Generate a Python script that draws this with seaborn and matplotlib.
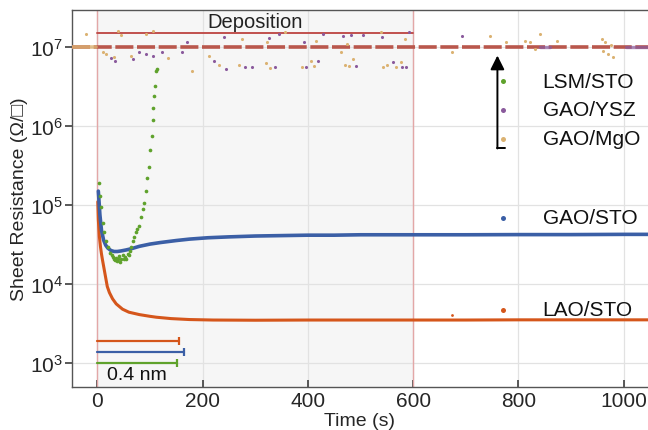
import numpy as np
import pandas as pd
import matplotlib
matplotlib.use("Agg")
import matplotlib.pyplot as plt
import seaborn as sns

# ---- data -------------------------------------------------------------
# GAO/STO sheet resistance (Ohm/sq) vs time (s)
gao_sto_t = [2, 3, 5, 8, 12, 16, 20, 26, 32, 38, 45, 55, 65, 80, 100, 120, 150,
             175, 210, 250, 300, 350, 400, 450, 500, 600, 700, 800, 900, 1000, 1046]
gao_sto_r = [1.5e5, 1.2e5, 7.5e4, 4.8e4, 3.6e4, 3.1e4, 2.85e4, 2.65e4, 2.58e4,
             2.58e4, 2.62e4, 2.7e4, 2.8e4, 3.0e4, 3.2e4, 3.35e4, 3.55e4, 3.7e4,
             3.85e4, 3.95e4, 4.05e4, 4.1e4, 4.15e4, 4.15e4, 4.2e4, 4.2e4, 4.2e4,
             4.22e4, 4.22e4, 4.25e4, 4.25e4]

# LAO/STO
lao_sto_t = [1, 2, 4, 6, 8, 10, 13, 16, 19, 23, 29, 36, 48, 60, 80, 100, 112,
             140, 175, 220, 300, 400, 500, 600, 700, 800, 900, 1000, 1046]
lao_sto_r = [1.1e5, 6.5e4, 4.0e4, 3.0e4, 2.4e4, 2.0e4, 1.55e4, 1.2e4, 9.3e3,
             7.8e3, 6.5e3, 5.6e3, 4.8e3, 4.4e3, 4.1e3, 3.9e3, 3.8e3, 3.65e3,
             3.55e3, 3.5e3, 3.48e3, 3.5e3, 3.5e3, 3.5e3, 3.5e3, 3.52e3, 3.52e3,
             3.52e3, 3.52e3]
lao_stray_t = [673]
lao_stray_r = [4.1e3]

# LSM/STO (sparse, noisy points)
lsm_t = [3, 5, 7, 10, 13, 16, 20, 24, 28, 30, 32, 34, 36, 38, 40, 42, 44, 46,
         48, 50, 52, 55, 58, 60, 62, 64, 67, 70, 73, 76, 80, 83, 86, 89, 92,
         95, 98, 101, 103, 105, 106, 108, 110, 111, 113]
lsm_r = [1.9e5, 1.3e5, 9.3e4, 6.0e4, 4.5e4, 3.5e4, 2.9e4, 2.5e4, 2.3e4, 2.2e4,
         2.05e4, 2.0e4, 2.15e4, 1.95e4, 2.1e4, 2.25e4, 1.9e4, 2.05e4, 2.3e4,
         2.1e4, 2.2e4, 2.05e4, 2.4e4, 2.3e4, 2.6e4, 2.9e4, 3.5e4, 3.9e4, 4.5e4,
         5.0e4, 5.4e4, 7.0e4, 9.0e4, 1.05e5, 1.5e5, 2.2e5, 3.0e5, 5.0e5, 7.5e5,
         1.2e6, 1.7e6, 2.4e6, 3.2e6, 5.0e6, 5.3e6]

# Saturated level shared by GAO/YSZ, GAO/MgO (and LSM/STO after ~115 s)
sat_t = [-48, 1046]
sat_r = [1.0e7, 1.0e7]
mgo_band_t = [-48, -2]
ysz_band_segments = [(840, 860), (1005, 1046)]

# GAO/YSZ points scattered off the saturated level
ysz_out_t = [27, 34, 68, 80, 93, 106, 122, 160, 171, 222, 240, 245, 280, 293,
             327, 338, 346, 392, 397, 420, 428, 466, 481, 492, 504, 540, 561,
             578, 586, 593, 692]
ysz_out_r = [7.2e6, 6.6e6, 7.1e6, 8.7e6, 8.1e6, 7.8e6, 8.7e6, 8.7e6, 1.15e7,
             6.6e6, 1.35e7, 5.2e6, 5.6e6, 5.6e6, 1.29e7, 5.6e6, 1.45e7, 1.15e7,
             5.6e6, 6.6e6, 1.45e7, 1.38e7, 1.41e7, 5.75e6, 1.41e7, 1.35e7,
             6.5e6, 5.6e6, 5.6e6, 1.55e7, 1.38e7]

# GAO/MgO points scattered off the saturated level
mgo_out_t = [-21, 11, 17, 32, 40, 46, 65, 93, 106, 135, 179, 213, 232, 270, 274,
             321, 323, 329, 356, 388, 405, 412, 416, 462, 470, 475, 479, 485,
             538, 542, 551, 568, 576, 584, 673, 745, 777, 812, 821, 831, 840,
             873, 958, 960, 965, 970, 979, 975]
mgo_out_r = [1.45e7, 8.7e6, 8.1e6, 7.4e6, 1.58e7, 1.41e7, 7.8e6, 1.45e7, 1.58e7,
             7.2e6, 5.0e6, 7.8e6, 6.0e6, 5.9e6, 1.26e7, 6.3e6, 1.15e7, 5.4e6,
             1.55e7, 5.6e6, 6.6e6, 5.75e6, 1.2e7, 8.7e6, 5.9e6, 1.1e7, 5.75e6,
             7.1e6, 1.55e7, 5.6e6, 5.9e6, 5.6e6, 6.5e6, 1.26e7, 8.7e6, 1.38e7,
             1.15e7, 1.2e7, 1.15e7, 9.3e6, 1.45e7, 1.2e7, 1.26e7, 8.9e6, 1.15e7,
             8.1e6, 7.4e6, 1.07e7]

# Deposition window and thickness bars (0.4 nm growth time per sample)
dep_start, dep_end = 0, 600
dep_level = 1.5e7
bar_ends = [156, 164, 151]          # LAO/STO, GAO/STO, LSM/STO
bar_levels = [1.9e3, 1.38e3, 1.0e3]

labels = ["LSM/STO", "GAO/YSZ", "GAO/MgO", "GAO/STO", "LAO/STO"]
label_levels = [3.7e6, 1.6e6, 6.9e5, 6.9e4, 4.7e3]

# ---- style ------------------------------------------------------------
sns.set_theme(style="ticks")
plt.rcParams["font.family"] = ["Liberation Sans", "DejaVu Sans"]
plt.rcParams["mathtext.fontset"] = "custom"
plt.rcParams["mathtext.rm"] = "Liberation Sans"
plt.rcParams["mathtext.it"] = "Liberation Sans:italic"

c_green = "#5fa22c"
c_purple = "#8a5a9c"
c_tan = "#dbb272"
c_blue = "#3b5fa6"
c_orange = "#d5561b"
c_red = "#c0504d"
c_band = "#b9574c"

fig = plt.figure(figsize=(6.48, 4.31), dpi=100)
ax = fig.add_axes([72 / 648, 1 - 388 / 431, (648 - 72) / 648, (388 - 11) / 431])
ax.set_yscale("log")
ax.set_xlim(-48, 1046)
ax.set_ylim(497, 2.94e7)

# deposition window
ax.axvspan(dep_start, dep_end, color="#f6f6f6", zorder=0, lw=0)
ax.axvline(dep_start, color="#e3a7a7", lw=1.0, zorder=1)
ax.axvline(dep_end, color="#e3a7a7", lw=1.0, zorder=1)
ax.plot([dep_start, dep_end], [dep_level, dep_level], color=c_red, lw=1.4, zorder=3)
ax.text((dep_start + dep_end) / 2, 2.1e7, "Deposition", ha="center", va="center",
        fontsize=14.5, color="#222222")

# saturated level
ax.plot(sat_t, sat_r, color=c_band, lw=2.6, dashes=(5, 1.0), zorder=3)
ax.plot(mgo_band_t, [1.0e7, 1.0e7], color=c_tan, lw=2.6, alpha=0.8, zorder=3)
for a, b in ysz_band_segments:
    ax.plot([a, b], [1.0e7, 1.0e7], color=c_purple, lw=2.4, alpha=0.7, zorder=3)

sns.scatterplot(x=ysz_out_t, y=ysz_out_r, color=c_purple, s=5, linewidth=0, ax=ax, zorder=4)
sns.scatterplot(x=mgo_out_t, y=mgo_out_r, color=c_tan, s=5, linewidth=0, ax=ax, zorder=4)

# transients
df_lao = pd.DataFrame({"t": lao_sto_t, "r": lao_sto_r})
df_gao = pd.DataFrame({"t": gao_sto_t, "r": gao_sto_r})
sns.lineplot(data=df_lao, x="t", y="r", color=c_orange, lw=2.2, ax=ax, zorder=5)
sns.scatterplot(x=lao_stray_t, y=lao_stray_r, color=c_orange, s=4, linewidth=0, ax=ax, zorder=5)
sns.lineplot(data=df_gao, x="t", y="r", color=c_blue, lw=2.6, ax=ax, zorder=6)
sns.scatterplot(x=lsm_t, y=lsm_r, color=c_green, s=7, linewidth=0, ax=ax, zorder=7)

# 0.4 nm thickness bars
for end, lvl, col in zip(bar_ends, bar_levels, [c_orange, c_blue, c_green]):
    ax.plot([0, end], [lvl, lvl], color=col, lw=1.6, zorder=6)
    ax.plot([end], [lvl], marker="|", ms=6, mew=1.6, color=col, zorder=6)
ax.text(18, 720, "0.4 nm", ha="left", va="center", fontsize=14, color="#111111")

# labels with colour dots
for lab, lvl, col in zip(labels, label_levels, [c_green, c_purple, c_tan, c_blue, c_orange]):
    ax.plot([770], [lvl], marker="o", ms=3.6, color=col, mew=0, zorder=8)
    ax.text(846, lvl, lab, ha="left", va="center", fontsize=15, color="#111111")

# arrow pointing to the saturated level
ax.annotate("", xy=(760, 7.8e6), xytext=(760, 5.2e5),
            arrowprops=dict(arrowstyle="-|>,head_width=0.35,head_length=0.7",
                            color="black", lw=1.4, shrinkA=0, shrinkB=0), zorder=8)
ax.plot([760, 774], [5.2e5, 5.2e5], color="black", lw=1.4, zorder=8)

# axes cosmetics
ax.set_xticks([0, 200, 400, 600, 800, 1000])
ax.set_yticks([1e3, 1e4, 1e5, 1e6, 1e7])
ax.yaxis.set_minor_locator(matplotlib.ticker.NullLocator())
ax.grid(True, color="#e2e2e2", lw=0.9)
ax.set_axisbelow(True)
ax.tick_params(axis="x", direction="in", length=5, labelsize=15, color="#444444", pad=3)
ax.tick_params(axis="y", direction="out", length=5, labelsize=15, color="#444444", pad=1.5)
for side in ["left", "bottom", "top"]:
    ax.spines[side].set_color("#555555")
    ax.spines[side].set_linewidth(1.0)
ax.spines["right"].set_visible(False)
ax.set_xlabel("Time (s)", fontsize=14, labelpad=1)
ax.set_ylabel("Sheet Resistance (Ω/□)", fontsize=14, labelpad=1)

fig.savefig("out.png", dpi=100)
